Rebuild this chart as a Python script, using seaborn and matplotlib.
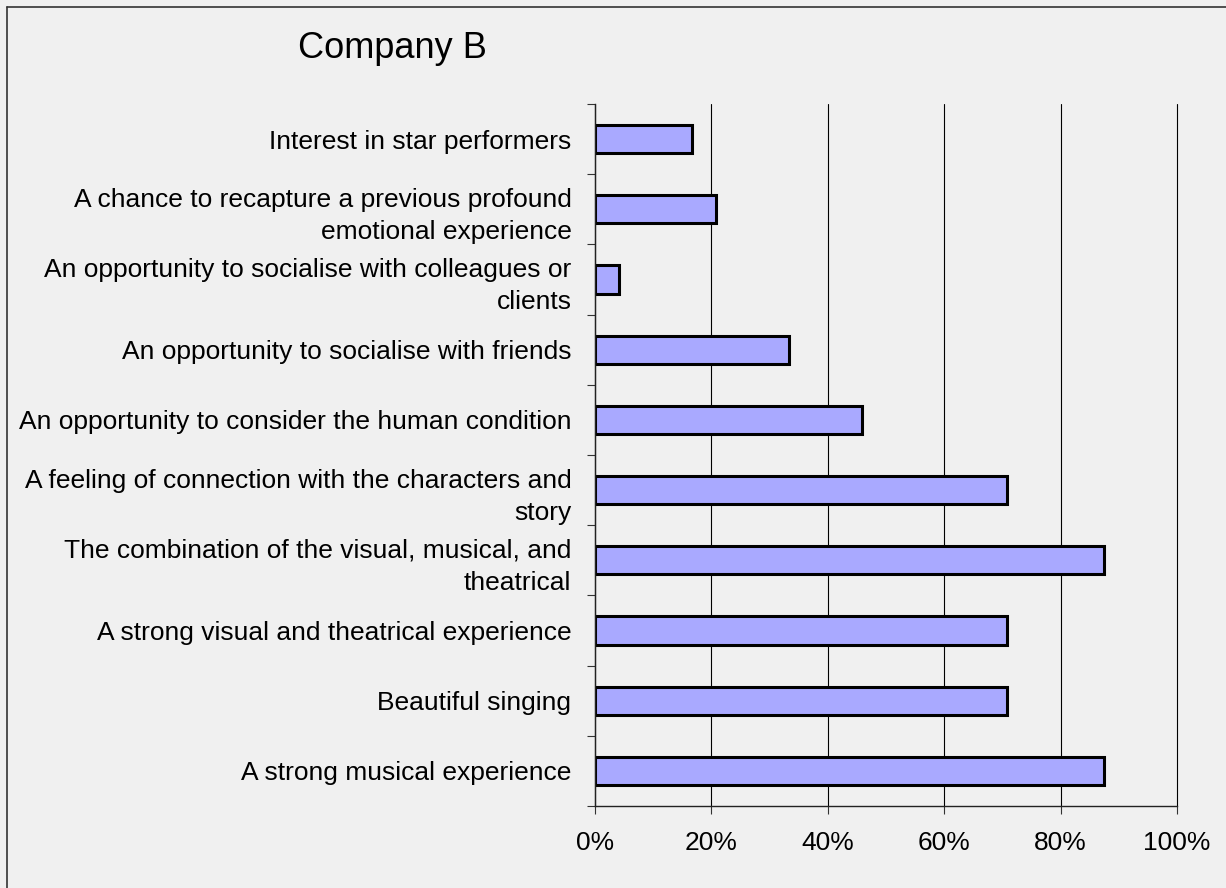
import matplotlib
matplotlib.use("Agg")
import matplotlib.pyplot as plt
import matplotlib.ticker as mticker
from matplotlib.lines import Line2D
import seaborn as sns
import pandas as pd
import numpy as np

categories = [
    "Interest in star performers",
    "A chance to recapture a previous profound\nemotional experience",
    "An opportunity to socialise with colleagues or\nclients",
    "An opportunity to socialise with friends",
    "An opportunity to consider the human condition",
    "A feeling of connection with the characters and\nstory",
    "The combination of the visual, musical, and\ntheatrical",
    "A strong visual and theatrical experience",
    "Beautiful singing",
    "A strong musical experience",
]
values = [16.7, 20.8, 4.2, 33.3, 45.8, 70.8, 87.5, 70.8, 70.8, 87.5]
x_ticks = [0, 20, 40, 60, 80, 100]
title = "Company B"

sns.set_style("white")
plt.rcParams["font.family"] = ["Liberation Sans", "DejaVu Sans"]
plt.rcParams["text.color"] = "black"
plt.rcParams["xtick.color"] = "black"
plt.rcParams["ytick.color"] = "black"

bg = "#f0f0f0"
bar_color = "#a9a9ff"
fs = 19

fig = plt.figure(figsize=(12.26, 8.88), dpi=100, facecolor=bg)
ax = fig.add_axes([595 / 1226, 1 - 806 / 888, (1177 - 595) / 1226, (806 - 104) / 888])
ax.set_facecolor(bg)

df = pd.DataFrame({"category": categories, "value": values})
sns.barplot(data=df, x="value", y="category", orient="h", color=bar_color,
            edgecolor="black", linewidth=2.2, width=0.4, saturation=1, ax=ax)

ax.set_xlim(0, 100)
ax.set_ylim(len(categories) - 0.5, -0.5)
ax.set_xticks(x_ticks)
ax.xaxis.set_major_formatter(mticker.FuncFormatter(lambda v, p: f"{int(v)}%"))
ax.set_xlabel("")
ax.set_ylabel("")

ax.set_yticks(range(len(categories)))
ax.set_yticklabels(categories, fontsize=fs, linespacing=1.42)
ax.set_yticks(np.arange(-0.5, len(categories), 1.0), minor=True)
ax.tick_params(axis="y", which="major", length=0, pad=17)
ax.tick_params(axis="y", which="minor", length=6, width=0.8, color="#333333", direction="out", left=True)
ax.tick_params(axis="x", which="major", length=6, width=0.8, color="#333333", direction="out",
               bottom=True, labelsize=fs, pad=12)
for lbl in ax.get_yticklabels():
    lbl.set_horizontalalignment("right")

ax.xaxis.grid(True, color="black", linewidth=0.8)
for gl in ax.get_xgridlines():
    gl.set_clip_on(False)
ax.set_axisbelow(True)
for s in ["top", "right"]:
    ax.spines[s].set_visible(False)
for s in ["left", "bottom"]:
    ax.spines[s].set_color("#222222")
    ax.spines[s].set_linewidth(1.0)

fig.text(298 / 1226, 1 - 49 / 888, title, fontsize=26, ha="left", va="center")

fig.add_artist(Line2D([7 / 1226, 7 / 1226], [0, 1 - 7 / 888], transform=fig.transFigure,
                      color="#333333", linewidth=1.2))
fig.add_artist(Line2D([7 / 1226, 1], [1 - 7 / 888, 1 - 7 / 888], transform=fig.transFigure,
                      color="#333333", linewidth=1.2))

fig.savefig("out.png", dpi=100, facecolor=bg)
